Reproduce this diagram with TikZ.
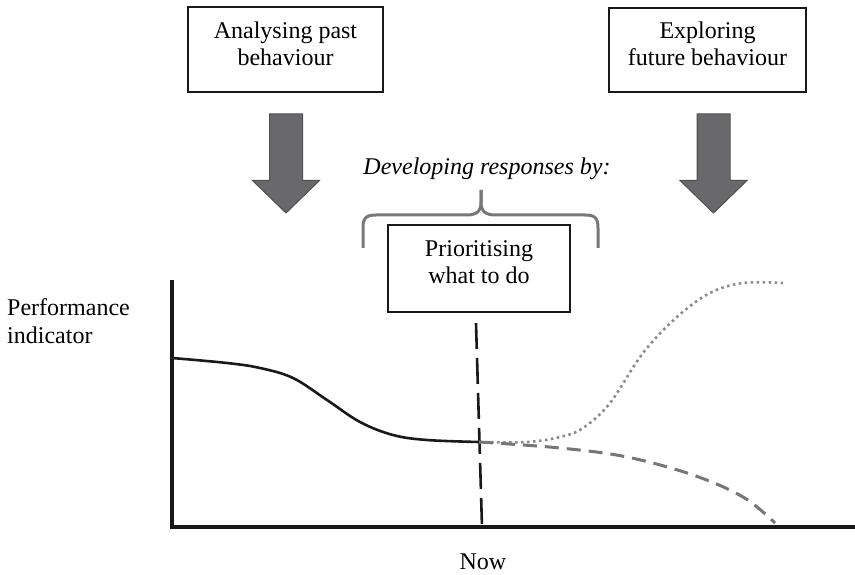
\documentclass[tikz,border=0pt]{standalone}
\usepackage{fontspec}
\setmainfont{Liberation Serif}
\usetikzlibrary{calc}
\definecolor{arrowfill}{RGB}{105,105,108}
\definecolor{arrowline}{RGB}{80,80,80}
\definecolor{bracegray}{RGB}{120,120,120}
\definecolor{dotgray}{RGB}{140,140,140}
\definecolor{dashgray}{RGB}{118,118,118}
\definecolor{inkblack}{RGB}{25,25,25}
\tikzset{
  txt/.style={font=\fontsize{24}{27}\selectfont, inner sep=0pt},
  textbox/.style={txt, draw=inkblack, line width=1.1pt, align=center},
  blockarrow/.style={fill=arrowfill, draw=arrowline, line width=1pt, line join=miter},
  axisline/.style={draw=inkblack, line width=3.5pt},
  pastline/.style={draw=inkblack, line width=2.6pt},
  nowline/.style={draw=inkblack, line width=2.6pt, dash pattern=on 26pt off 9pt},
  riseline/.style={draw=dotgray, line width=2.6pt, dash pattern=on 2.6pt off 3.4pt},
  fallline/.style={draw=dashgray, line width=3pt, dash pattern=on 14pt off 8pt},
  bracepath/.style={draw=bracegray, line width=3pt, line join=round}
}
\newcommand{\lowstrut}{\rule[-12pt]{0pt}{12pt}}
\begin{document}
\begin{tikzpicture}[x=1pt,y=-1pt]
\useasboundingbox (0,0) rectangle (855,575);

% boxes
\node[textbox, minimum width=195pt, minimum height=85pt] (past) at (285.5,49.5)
  {Analysing past\\behaviour\lowstrut};
\node[textbox, minimum width=197pt, minimum height=84pt] (future) at (707.5,50)
  {Exploring\\future behaviour\lowstrut};
\node[textbox, minimum width=182pt, minimum height=87pt] (prio) at (479,268.5)
  {Prioritising\\what to do\lowstrut};

% block arrows
\coordinate (a1) at (286,114);
\coordinate (a2) at (713.5,114);
\foreach \c in {a1,a2}{
  \draw[blockarrow] ($(\c)+(-16.5,0)$) -- ($(\c)+(16.5,0)$) -- ($(\c)+(16.5,66.5)$)
    -- ($(\c)+(33.5,66.5)$) -- ($(\c)+(0,99)$) -- ($(\c)+(-33.5,66.5)$)
    -- ($(\c)+(-16.5,66.5)$) -- cycle;
}

% developing responses + brace
\node[txt, anchor=base, font=\fontsize{24}{27}\selectfont\itshape] (dev) at (487,175) {Developing responses by:};
\coordinate (bl) at (363,248);
\coordinate (br) at (598,248);
\coordinate (bt) at (481,190);
\draw[bracepath] (bl) -- (363,228) .. controls (363,218) and (366,215) .. (376,215)
  -- (466,215) .. controls (476,215) and (481,212) .. (481,202) -- (bt);
\draw[bracepath] (bt) -- (481,202) .. controls (481,212) and (486,215) .. (496,215)
  -- (585,215) .. controls (595,215) and (598,218) .. (598,228) -- (br);

% axes
\coordinate (ytop) at (172,280);
\coordinate (origin) at (172,527);
\coordinate (xend) at (855,527);
\draw[axisline] (ytop) -- (origin) -- (xend);

\node[txt, anchor=base west, align=left, font=\fontsize{24}{28}\selectfont] (perf) at (7,343) {Performance\\indicator};

% now line
\coordinate (nowtop) at (476,323);
\coordinate (nowbot) at (482,527);
\draw[nowline] (nowtop) -- (nowbot);
\node[txt, anchor=base] (now) at (483,569) {Now};

% curves
\coordinate (split) at (479,442);
\draw[pastline] plot[smooth, tension=0.6] coordinates {(172,358) (227,363) (260,368) (293,378) (327,400) (360,422) (393,435) (427,440) (split)};
\draw[riseline] plot[smooth, tension=0.6] coordinates {(split) (527,442) (560,437) (583,428) (610,403) (643,353) (677,317) (710,293) (743,283) (783,283)};
\draw[fallline] plot[smooth, tension=0.6] coordinates {(split) (560,448) (627,457) (693,475) (743,497) (775,523)};
\end{tikzpicture}
\end{document}
